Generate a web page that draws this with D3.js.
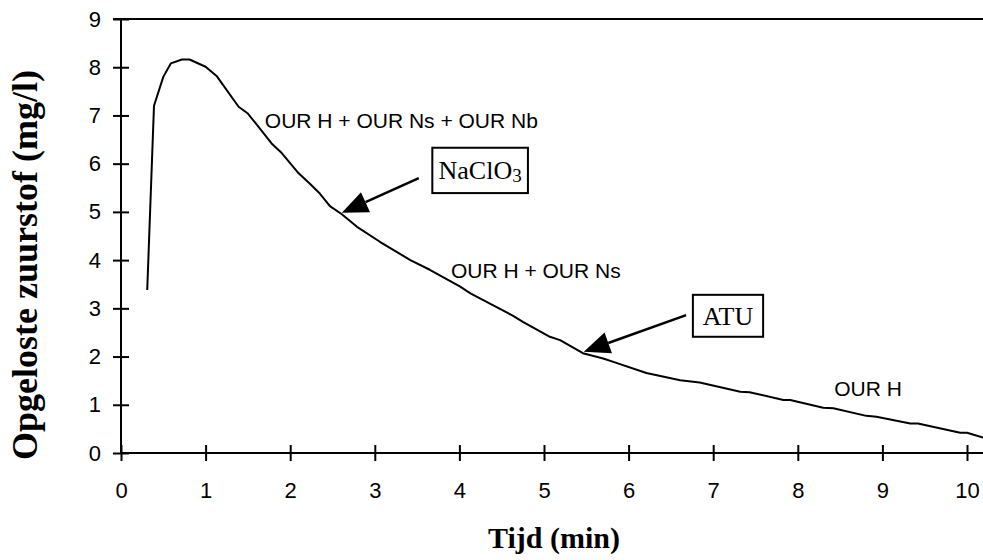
<!DOCTYPE html>
<html>
<head>
<meta charset="utf-8">
<script src="https://cdn.jsdelivr.net/npm/d3@7"></script>
<style>
  html, body { margin: 0; padding: 0; background: #fff; }
  svg { display: block; }
</style>
</head>
<body>
<svg id="chart" width="983" height="560"></svg>
<script>
// Dissolved oxygen during the respiration test
const times = [0.31,0.39,0.50,0.59,0.72,0.81,1.00,1.13,1.39,1.50,1.78,1.90,2.10,2.23,2.35,2.47,2.61,2.79,3.06,3.42,3.65,4.01,4.13,4.64,4.75,5.07,5.19,5.46,5.70,5.82,6.21,6.61,6.84,7.32,7.43,7.83,7.91,8.30,8.42,8.81,8.93,9.33,9.42,9.92,10.00,10.19];
const oxygen = [3.38,7.20,7.80,8.08,8.16,8.16,8.01,7.82,7.18,7.04,6.42,6.22,5.80,5.59,5.38,5.12,4.95,4.69,4.38,4.00,3.80,3.45,3.31,2.84,2.72,2.41,2.34,2.07,1.96,1.89,1.66,1.51,1.46,1.27,1.26,1.10,1.10,0.94,0.93,0.77,0.75,0.61,0.61,0.42,0.42,0.32];

const xTicks = [0,1,2,3,4,5,6,7,8,9,10];
const yTicks = [0,1,2,3,4,5,6,7,8,9];

// Phase labels (time, oxygen at baseline start)
const phaseLabels = ["OUR H + OUR Ns + OUR Nb", "OUR H + OUR Ns", "OUR H"];
const phaseT = [1.70, 3.90, 8.43];
const phaseV = [6.74, 3.63, 1.19];

// Dosing markers: boxed label and arrow pointing to the curve
const doseNames = ["NaClO", "ATU"];
const doseSub = ["3", ""];
const boxT0 = [3.68, 6.76], boxT1 = [4.81, 7.59];
const boxV0 = [5.39, 2.41], boxV1 = [6.33, 3.28];
const arrowFromT = [3.52, 6.68], arrowFromV = [5.70, 2.86];
const arrowToT = [2.61, 5.47], arrowToV = [4.98, 2.10];

const svg = d3.select("#chart");
const plotLeft = 121, plotRight = 983, plotTop = 19, plotBottom = 453;

const x = d3.scaleLinear().domain([0, 10]).range([plotLeft, 967]);
const y = d3.scaleLinear().domain([0, 9]).range([plotBottom, plotTop]);

const sans = "'Liberation Sans', Arial, sans-serif";
const serif = "'Liberation Serif', 'Times New Roman', serif";

// Axes with ticks crossing the axis line
const xAxis = d3.axisBottom(x).tickValues(xTicks).tickFormat(d3.format("d")).tickSizeInner(8).tickSizeOuter(0).tickPadding(21);
const gx = svg.append("g").attr("transform", `translate(0,${plotBottom})`).call(xAxis);
gx.select(".domain").remove();
gx.selectAll(".tick line").attr("y1", -8).attr("y2", 8).attr("stroke", "#000").attr("stroke-width", 2);
gx.selectAll(".tick text").attr("font-family", sans).attr("font-size", 22).attr("fill", "#000");

const yAxis = d3.axisLeft(y).tickValues(yTicks).tickFormat(d3.format("d")).tickSizeInner(8).tickSizeOuter(0).tickPadding(12);
const gy = svg.append("g").attr("transform", `translate(${plotLeft},0)`).call(yAxis);
gy.select(".domain").remove();
gy.selectAll(".tick line").attr("x1", -8).attr("x2", 8).attr("stroke", "#000").attr("stroke-width", 2);
gy.selectAll(".tick text").attr("font-family", sans).attr("font-size", 22).attr("fill", "#000");

// Axis lines and top frame
svg.append("line").attr("x1", plotLeft).attr("x2", plotRight).attr("y1", y(0)).attr("y2", y(0)).attr("stroke", "#000").attr("stroke-width", 2);
svg.append("line").attr("x1", plotLeft).attr("x2", plotLeft).attr("y1", y(0)).attr("y2", y(9)).attr("stroke", "#000").attr("stroke-width", 2);
svg.append("line").attr("x1", plotLeft - 8).attr("x2", plotRight).attr("y1", y(9)).attr("y2", y(9)).attr("stroke", "#000").attr("stroke-width", 2);

// Oxygen curve
const line = d3.line().x((d, i) => x(times[i])).y(d => y(d));
svg.append("path").datum(oxygen).attr("d", line).attr("fill", "none").attr("stroke", "#000").attr("stroke-width", 2).attr("stroke-linejoin", "round");

// Phase labels
phaseLabels.forEach((t, i) => {
  svg.append("text").attr("x", x(phaseT[i])).attr("y", y(phaseV[i]))
    .attr("font-family", sans).attr("font-size", 21).attr("fill", "#000").text(t);
});

// Dosing boxes and arrows
doseNames.forEach((n, i) => {
  const bx = x(boxT0[i]), bw = x(boxT1[i]) - bx;
  const by = y(boxV1[i]), bh = y(boxV0[i]) - by;
  svg.append("rect").attr("x", bx).attr("y", by).attr("width", bw).attr("height", bh)
    .attr("fill", "#fff").attr("stroke", "#000").attr("stroke-width", 2);
  const txt = svg.append("text").attr("x", bx + bw / 2).attr("y", by + bh / 2 + 9)
    .attr("text-anchor", "middle").attr("font-family", serif).attr("font-size", 26).attr("fill", "#000");
  txt.append("tspan").text(n);
  if (doseSub[i]) txt.append("tspan").attr("dy", 3).attr("font-size", 19).text(doseSub[i]);

  const x0 = x(arrowFromT[i]), y0 = y(arrowFromV[i]);
  const x1 = x(arrowToT[i]), y1 = y(arrowToV[i]);
  const ang = Math.atan2(y1 - y0, x1 - x0);
  const headLen = 26, headHalf = 11;
  const bxh = x1 - headLen * Math.cos(ang), byh = y1 - headLen * Math.sin(ang);
  svg.append("line").attr("x1", x0).attr("y1", y0).attr("x2", bxh).attr("y2", byh)
    .attr("stroke", "#000").attr("stroke-width", 2.5);
  const px = -Math.sin(ang), py = Math.cos(ang);
  svg.append("path")
    .attr("d", `M${x1},${y1}L${bxh + px * headHalf},${byh + py * headHalf}L${bxh - px * headHalf},${byh - py * headHalf}Z`)
    .attr("fill", "#000");
});

// Axis titles
svg.append("text").attr("x", 554).attr("y", 548).attr("text-anchor", "middle")
  .attr("font-family", serif).attr("font-weight", "bold").attr("font-size", 30).attr("fill", "#000")
  .text("Tijd (min)");
svg.append("text").attr("transform", "translate(37,265) rotate(-90)").attr("text-anchor", "middle")
  .attr("font-family", serif).attr("font-weight", "bold").attr("font-size", 36).attr("fill", "#000")
  .text("Opgeloste zuurstof (mg/l)");
</script>
</body>
</html>
